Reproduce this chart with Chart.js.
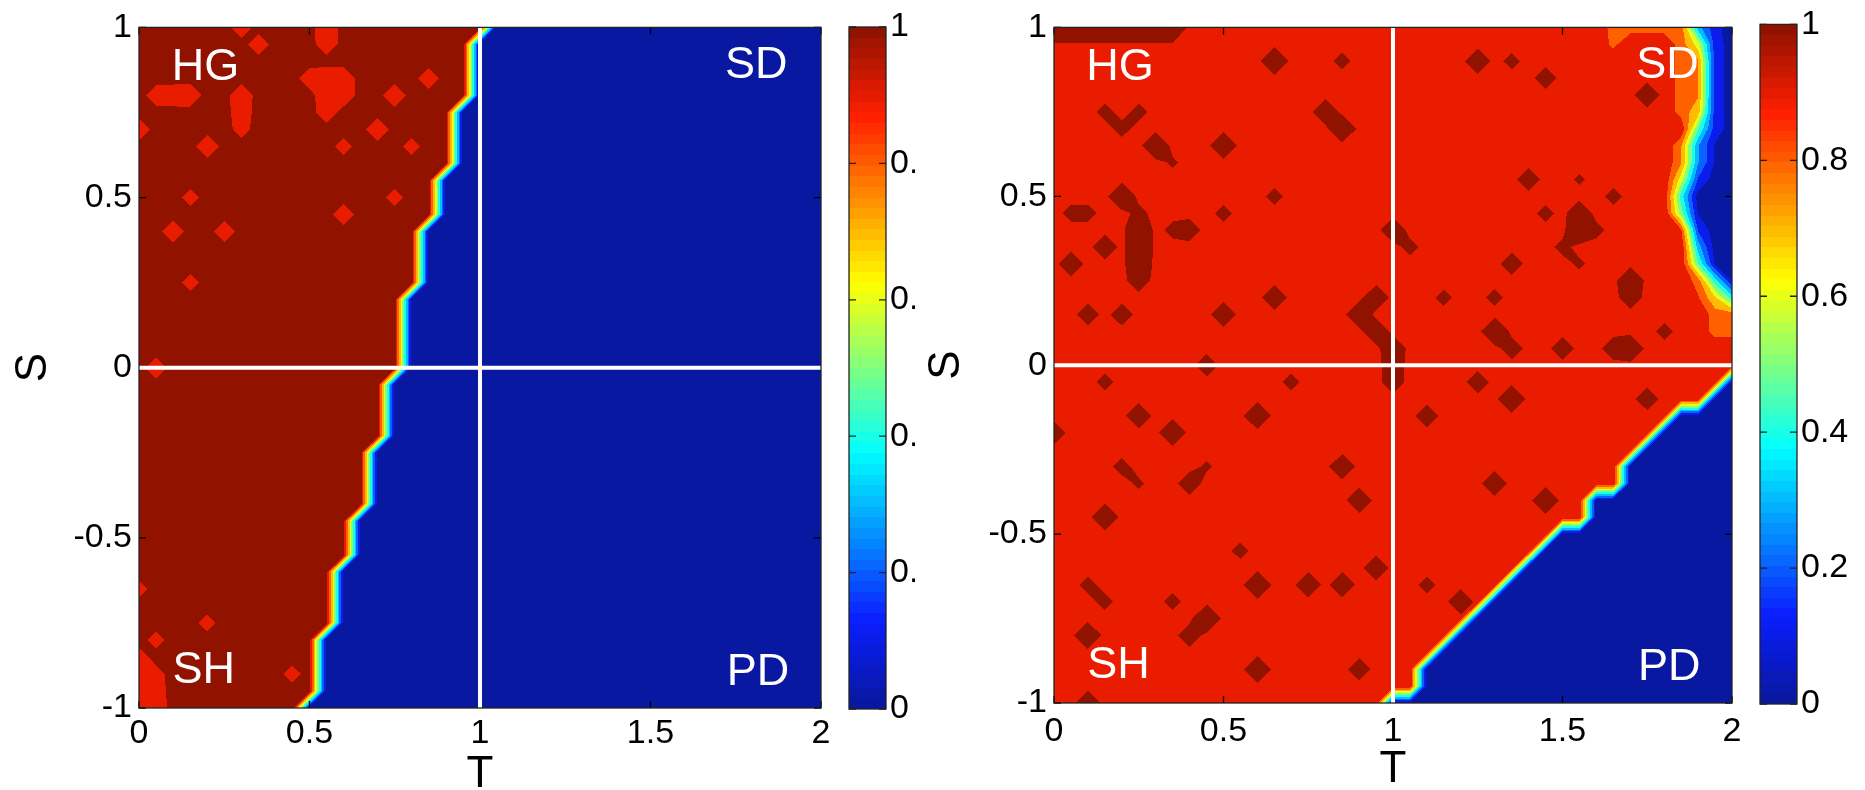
<!DOCTYPE html>
<html>
<head>
<meta charset="utf-8">
<script src="https://cdn.jsdelivr.net/npm/chart.js@4.4.1/dist/chart.umd.min.js"></script>
<style>
  html, body { margin: 0; padding: 0; background: #fff; }
  #fig { position: relative; width: 1865px; height: 790px; overflow: hidden; background: #fff; }
  #fig canvas { position: absolute; top: 0; }
</style>
</head>
<body>
<div id="fig">
  <canvas id="mapL" width="845" height="790" style="left:0px;z-index:1"></canvas>
  <canvas id="barL" width="110" height="790" style="left:845px;z-index:1"></canvas>
  <canvas id="mapR" width="845" height="790" style="left:915px;z-index:2"></canvas>
  <canvas id="barR" width="115" height="790" style="left:1750px;z-index:3"></canvas>
</div>
<script>
// axes
var tTicks = [0, 0.5, 1, 1.5, 2];
var sTicks = [-1, -0.5, 0, 0.5, 1];
var cTicks = [0, 0.2, 0.4, 0.6, 0.8, 1];
var step = 0.05;          // grid spacing in T and S
var nT = 41, nS = 41;     // grid points along T and S

// white reference lines T=1 and S=0
var vLine = [{x: 1, y: -1}, {x: 1, y: 1}];
var hLine = [{x: 0, y: 0}, {x: 2, y: 0}];

// quadrant names
var regionNames = ['HG', 'SD', 'SH', 'PD'];
var regionT = [0.195, 1.81, 0.19, 1.815];
var regionS = [0.882, 0.888, -0.89, -0.895];

// left panel: last T index still at 1, one entry per S row (S=-1 ... S=1)
var leftEdge = [9, 10, 10, 10, 10, 11, 11, 11, 11, 12, 12, 12, 13, 13, 13, 13, 14, 14, 14, 14,
  15, 15, 15, 15, 15, 16, 16, 16, 16, 17, 17, 17, 18, 18, 18, 18, 19, 19, 19, 19, 20];
// left panel: points below 1 [T index, S index, value]
var leftSpots = [
  [6, 40, 0.87], [7, 39, 0.87], [11, 40, 0.85], [11, 39, 0.86],
  [11, 37, 0.85], [12, 37, 0.85], [11, 36, 0.85], [12, 36, 0.86], [10, 37, 0.87], [11, 35, 0.87],
  [1, 36, 0.87], [2, 36, 0.86], [3, 36, 0.85], [6, 36, 0.85], [15, 36, 0.85], [17, 37, 0.87],
  [6, 35, 0.87], [0, 34, 0.86], [6, 34, 0.9], [14, 34, 0.85], [4, 33, 0.85], [12, 33, 0.9], [16, 33, 0.9],
  [3, 30, 0.9], [15, 30, 0.9], [12, 29, 0.87], [5, 28, 0.87], [2, 28, 0.86], [3, 25, 0.9], [1, 20, 0.87],
  [0, 7, 0.9], [4, 5, 0.9], [1, 4, 0.9], [9, 2, 0.9],
  [0, 0, 0.86], [1, 0, 0.86], [0, 1, 0.86], [1, 1, 0.88], [0, 2, 0.86], [1, 2, 0.9], [0, 3, 0.88]
];

// right panel
var B = 0.94;             // bulk level of the right panel
// last T index above 0 for the PD rows (S=-1 ... S=-0.05)
var rightEdge = [19, 21, 21, 22, 23, 24, 25, 26, 27, 28, 29, 31, 31, 33, 33, 34, 35, 36, 38, 39];
// SD side, T index 33..40, rows S=1 down to S=0
var rightSDFirstCol = 33;
var rightSD = [
  [0.8, 0.8, 0.8, 0.8, 0.8, 0.3, 0.08, 0],
  [0.82, B, B, B, 0.8, 0.6, 0.1, 0],
  [B, B, B, B, 0.8, 0.76, 0.1, 0],
  [B, B, B, B, 0.8, 0.76, 0.1, 0],
  [B, B, B, B, 0.8, 0.76, 0.1, 0],
  [B, B, B, B, 0.8, 0.7, 0.1, 0],
  [B, B, B, B, B, 0.46, 0.1, 0],
  [B, B, B, B, 0.76, 0.26, 0.04, 0],
  [B, B, B, B, 0.76, 0.26, 0.04, 0],
  [B, B, B, B, 0.6, 0.14, 0, 0],
  [B, B, B, B, 0.4, 0, 0, 0],
  [B, B, B, B, 0.5, 0.04, 0, 0],
  [B, B, B, B, 0.86, 0.14, 0, 0],
  [B, B, B, B, B, 0.3, 0, 0],
  [B, B, B, B, B, 0.46, 0.04, 0],
  [B, B, B, B, B, 0.8, 0.4, 0.04],
  [B, B, B, B, B, 0.86, 0.66, 0.4],
  [B, B, B, B, B, B, 0.8, 0.8],
  [B, B, B, B, B, B, 0.8, 0.8],
  [B, B, B, B, B, B, B, B],
  [B, B, B, B, B, B, B, B]
];
// dark strip along the top edge [S index, value, first T index, last T index]
var rightTopBand = [[40, 1, 0, 7], [39, 0.947, 0, 7]];
// right panel: points above the bulk [T index, S index, value]
var rightSpots = [
  [13, 38, 1], [17, 38, 0.96], [3, 35, 0.96], [5, 35, 0.96], [4, 34, 0.96], [16, 35, 0.98], [17, 34, 1],
  [6, 33, 0.99], [10, 33, 0.99], [7, 32, 0.955], [4, 30, 0.99], [13, 30, 0.96], [1, 29, 0.96], [2, 29, 0.96],
  [5, 28, 1], [5, 27, 1], [5, 26, 0.99], [5, 25, 0.97], [5, 29, 0.96], [7, 28, 0.96], [8, 28, 0.97],
  [10, 29, 0.96], [3, 27, 0.98], [1, 26, 0.98], [20, 28, 0.98], [21, 27, 0.96], [13, 24, 0.98],
  [2, 23, 0.97], [4, 23, 0.97], [10, 23, 0.98], [19, 24, 0.98], [18, 23, 0.99], [19, 22, 0.98],
  [20, 21, 0.98], [20, 20, 0.97], [9, 20, 0.97], [20, 19, 0.97], [3, 19, 0.96], [14, 19, 0.96],
  [12, 17, 0.99], [5, 17, 0.98], [7, 16, 0.99], [0, 16, 0.97], [17, 14, 0.98], [4, 14, 0.96],
  [9, 14, 0.955], [8, 13, 0.97], [5, 13, 0.955], [18, 12, 0.98], [3, 11, 0.99], [11, 9, 0.96],
  [19, 8, 0.98], [12, 7, 1], [15, 7, 0.98], [17, 7, 0.98], [2, 7, 0.96], [3, 6, 0.96], [7, 6, 0.96],
  [9, 5, 1], [8, 4, 0.97], [2, 4, 0.99], [12, 2, 0.99], [18, 2, 0.97], [2, 0, 0.98],
  [25, 38, 0.98], [27, 38, 0.96], [29, 37, 0.97], [35, 36, 0.98], [28, 31, 0.97], [31, 31, 0.955],
  [33, 30, 0.96], [29, 29, 0.96], [31, 28, 1], [31, 29, 0.98], [32, 28, 0.96], [30, 27, 0.96],
  [27, 26, 0.97], [31, 26, 0.955], [34, 25, 0.99], [34, 24, 0.97], [23, 24, 0.96], [26, 24, 0.96],
  [26, 22, 1], [27, 21, 0.97], [30, 21, 0.97], [34, 21, 0.99], [33, 21, 0.97], [36, 22, 0.96],
  [25, 19, 0.97], [27, 18, 1], [22, 17, 0.97], [35, 18, 0.97], [26, 13, 0.98], [29, 12, 0.99],
  [22, 7, 0.96], [24, 6, 0.98]
];

// colour map (jet-like, as printed)
var cmapStops = [0, 0.125, 0.375, 0.625, 0.875, 1];
var cmapColors = [[8, 24, 160], [10, 30, 255], [0, 255, 255], [255, 255, 0], [255, 30, 0], [146, 18, 0]];

function cmap(v) {
  v = Math.max(0, Math.min(1, v));
  for (var k = 1; k < cmapStops.length; k++) {
    if (v <= cmapStops[k]) {
      var t = (v - cmapStops[k - 1]) / (cmapStops[k] - cmapStops[k - 1]);
      var a = cmapColors[k - 1], b = cmapColors[k];
      return [0, 1, 2].map(function(c) { return Math.round(a[c] + (b[c] - a[c]) * t); });
    }
  }
  return cmapColors[cmapColors.length - 1];
}
// filled contour levels 0, 0.1 ... 1 (boundaries half way between)
var levelColors = [], thresholds = [];
for (var L = 0; L <= 10; L++) levelColors.push(cmap(L / 10));
for (L = 1; L <= 10; L++) thresholds.push((L - 0.5) / 10);
function levelOf(v) { return Math.max(0, Math.min(10, Math.floor(v * 10 + 0.5))); }

function buildLeft() {
  var g = [];
  for (var i = 0; i < nS; i++) {
    var row = [];
    for (var j = 0; j < nT; j++) row.push(j <= leftEdge[i] ? 1 : 0);
    g.push(row);
  }
  leftSpots.forEach(function(p) { g[p[1]][p[0]] = p[2]; });
  return g;
}

function buildRight() {
  var g = [];
  for (var i = 0; i < nS; i++) {
    var row = [];
    for (var j = 0; j < nT; j++) row.push(i < rightEdge.length && j > rightEdge[i] ? 0 : B);
    g.push(row);
  }
  rightSD.forEach(function(vals, k) {
    vals.forEach(function(v, c) { g[nS - 1 - k][rightSDFirstCol + c] = v; });
  });
  rightTopBand.forEach(function(b) {
    for (var j = b[2]; j <= b[3]; j++) g[b[0]][j] = b[1];
  });
  rightSpots.forEach(function(p) { g[p[1]][p[0]] = p[2]; });
  return g;
}

// marching squares: polygons of {v >= level} inside one cell
var corner = [[0, 0], [1, 0], [1, 1], [0, 1]];
function cellInfo(vals) {
  var lo = levelOf(Math.min.apply(null, vals)), hi = levelOf(Math.max.apply(null, vals));
  var polys = {};
  for (var k = lo + 1; k <= hi; k++) {
    var th = thresholds[k - 1], poly = [];
    for (var n = 0; n < 4; n++) {
      var m = (n + 1) % 4, vn = vals[n], vm = vals[m];
      if (vn >= th) poly.push(corner[n]);
      if ((vn >= th) !== (vm >= th)) {
        var t = (th - vn) / (vm - vn);
        poly.push([corner[n][0] + (corner[m][0] - corner[n][0]) * t,
                   corner[n][1] + (corner[m][1] - corner[n][1]) * t]);
      }
    }
    polys[k] = poly;
  }
  return { lo: lo, hi: hi, polys: polys };
}
function inside(poly, x, y) {
  var hits = 0;
  for (var n = 0; n < poly.length; n++) {
    var p = poly[n], q = poly[(n + 1) % poly.length];
    var ex = q[0] - p[0], ey = q[1] - p[1];
    if (ex * ex + ey * ey < 1e-12) continue;
    if (ex * (y - p[1]) - ey * (x - p[0]) < 0) return false;
    hits++;
  }
  return hits >= 3;
}

Chart.defaults.font.family = '"Liberation Sans", Arial, Helvetica, sans-serif';
Chart.defaults.color = '#000';
var FONT_TICK = 34, FONT_TITLE = 44, FONT_REGION = 45;

function heatPlugin(grid, whiteBg) {
  var cells = [];
  for (var i = 0; i < nS - 1; i++) {
    var row = [];
    for (var j = 0; j < nT - 1; j++) {
      row.push(cellInfo([grid[i][j], grid[i][j + 1], grid[i + 1][j + 1], grid[i + 1][j]]));
    }
    cells.push(row);
  }
  return {
    id: 'heat',
    beforeDraw: function(chart) {
      if (!whiteBg) return;
      var ctx = chart.ctx;
      ctx.save();
      ctx.fillStyle = '#fff';
      ctx.fillRect(0, 0, chart.width, chart.height);
      ctx.restore();
    },
    beforeDatasetsDraw: function(chart) {
      var a = chart.chartArea, xs = chart.scales.x, ys = chart.scales.y, ctx = chart.ctx;
      var x0 = Math.round(a.left), y0 = Math.round(a.top);
      var w = Math.round(a.right) - x0, h = Math.round(a.bottom) - y0;
      var off = document.createElement('canvas');
      off.width = w; off.height = h;
      var octx = off.getContext('2d');
      var img = octx.createImageData(w, h), d = img.data;
      var gx = new Float64Array(w), gy = new Float64Array(h);
      var px, py;
      for (px = 0; px < w; px++) gx[px] = (xs.getValueForPixel(x0 + px + 0.5) - tTicks[0]) / step;
      for (py = 0; py < h; py++) gy[py] = (ys.getValueForPixel(y0 + py + 0.5) - sTicks[0]) / step;
      for (py = 0; py < h; py++) {
        var fy = Math.max(0, Math.min(nS - 1, gy[py]));
        var i0 = Math.min(nS - 2, Math.floor(fy)), ty = fy - i0;
        var crow = cells[i0];
        for (px = 0; px < w; px++) {
          var fx = Math.max(0, Math.min(nT - 1, gx[px]));
          var j0 = Math.min(nT - 2, Math.floor(fx)), tx = fx - j0;
          var cell = crow[j0], lvl = cell.lo;
          for (var k = cell.hi; k > cell.lo; k--) {
            if (inside(cell.polys[k], tx, ty)) { lvl = k; break; }
          }
          var c = levelColors[lvl];
          var o = (py * w + px) * 4;
          d[o] = c[0]; d[o + 1] = c[1]; d[o + 2] = c[2]; d[o + 3] = 255;
        }
      }
      octx.putImageData(img, 0, 0);
      ctx.drawImage(off, x0, y0);

      // inward tick marks
      ctx.save();
      ctx.strokeStyle = '#000';
      ctx.lineWidth = 1.3;
      ctx.beginPath();
      tTicks.forEach(function(t) {
        var x = xs.getPixelForValue(t);
        ctx.moveTo(x, a.bottom); ctx.lineTo(x, a.bottom - 7);
        ctx.moveTo(x, a.top); ctx.lineTo(x, a.top + 7);
      });
      sTicks.forEach(function(s) {
        var y = ys.getPixelForValue(s);
        ctx.moveTo(a.left, y); ctx.lineTo(a.left + 7, y);
        ctx.moveTo(a.right, y); ctx.lineTo(a.right - 7, y);
      });
      ctx.stroke();
      ctx.restore();
    },
    afterDatasetsDraw: function(chart) {
      var a = chart.chartArea, xs = chart.scales.x, ys = chart.scales.y, ctx = chart.ctx;
      ctx.save();
      ctx.strokeStyle = '#222';
      ctx.lineWidth = 1.3;
      ctx.strokeRect(a.left, a.top, a.right - a.left, a.bottom - a.top);
      ctx.fillStyle = '#fff';
      ctx.font = FONT_REGION + 'px "Liberation Sans", Arial, sans-serif';
      ctx.textAlign = 'center';
      ctx.textBaseline = 'middle';
      regionNames.forEach(function(name, k) {
        ctx.fillText(name, xs.getPixelForValue(regionT[k]), ys.getPixelForValue(regionS[k]));
      });
      ctx.restore();
    }
  };
}

var cbarPlugin = {
  id: 'cbar',
  afterDraw: function(chart) {
    var a = chart.chartArea, ys = chart.scales.y, ctx = chart.ctx;
    var n = 64;
    ctx.save();
    for (var k = 0; k < n; k++) {
      var yb = Math.round(ys.getPixelForValue(k / n));
      var yt = Math.round(ys.getPixelForValue((k + 1) / n));
      var c = cmap(k / (n - 1));
      ctx.fillStyle = 'rgb(' + c[0] + ',' + c[1] + ',' + c[2] + ')';
      ctx.fillRect(a.left, yt, a.right - a.left, yb - yt);
    }
    ctx.strokeStyle = '#222';
    ctx.lineWidth = 1.3;
    ctx.strokeRect(a.left, a.top, a.right - a.left, a.bottom - a.top);
    ctx.beginPath();
    cTicks.forEach(function(v) {
      var y = ys.getPixelForValue(v);
      ctx.moveTo(a.left, y); ctx.lineTo(a.left + 7, y);
      ctx.moveTo(a.right, y); ctx.lineTo(a.right - 7, y);
    });
    ctx.stroke();
    ctx.restore();
  }
};

function mapChart(id, grid, o) {
  return new Chart(document.getElementById(id), {
    type: 'line',
    data: {
      datasets: [
        { data: vLine, borderColor: '#fff', borderWidth: 4, pointRadius: 0, fill: false },
        { data: hLine, borderColor: '#fff', borderWidth: 4, pointRadius: 0, fill: false }
      ]
    },
    options: {
      responsive: false,
      animation: false,
      events: [],
      layout: { padding: o.pad },
      plugins: { legend: { display: false }, tooltip: { enabled: false } },
      scales: {
        x: {
          type: 'linear', min: 0, max: 2,
          grid: { display: false, drawTicks: false },
          border: { display: false },
          ticks: { font: { size: FONT_TICK }, color: '#000', padding: o.tickPadX, maxRotation: 0, autoSkip: false,
                   callback: function(v) { return String(v); } },
          afterBuildTicks: function(s) { s.ticks = tTicks.map(function(v) { return { value: v }; }); },
          afterFit: function(s) { s.height = o.xAxisH; },
          title: { display: true, text: 'T', color: '#000', font: { size: FONT_TITLE, lineHeight: 0.7 },
                   padding: { top: 0, bottom: o.titlePadX } }
        },
        y: {
          type: 'linear', min: -1, max: 1,
          grid: { display: false, drawTicks: false },
          border: { display: false },
          ticks: { font: { size: FONT_TICK }, color: '#000', padding: 7, autoSkip: false,
                   callback: function(v) { return String(v); } },
          afterBuildTicks: function(s) { s.ticks = sTicks.map(function(v) { return { value: v }; }); },
          afterFit: function(s) { s.width = 139; },
          title: { display: true, text: 'S', color: '#000', font: { size: FONT_TITLE, lineHeight: 0.7 },
                   padding: { top: o.titlePadY, bottom: 0 } }
        }
      }
    },
    plugins: [heatPlugin(grid, o.whiteBg)]
  });
}

function barChart(id, o) {
  return new Chart(document.getElementById(id), {
    type: 'line',
    data: { datasets: [] },
    options: {
      responsive: false,
      animation: false,
      events: [],
      layout: { padding: o.pad },
      plugins: { legend: { display: false }, tooltip: { enabled: false } },
      scales: {
        x: { type: 'linear', display: false, min: 0, max: 1 },
        y: {
          type: 'linear', min: 0, max: 1, position: 'right',
          grid: { display: false, drawTicks: false },
          border: { display: false },
          ticks: { font: { size: FONT_TICK }, color: '#000', padding: 4, autoSkip: false,
                   callback: function(v) { return String(v); } },
          afterBuildTicks: function(s) { s.ticks = cTicks.map(function(v) { return { value: v }; }); },
          afterFit: function(s) { s.width = o.axisW; }
        }
      }
    },
    plugins: [cbarPlugin]
  });
}

mapChart('mapL', buildLeft(), { pad: { left: 0, top: 26, right: 24, bottom: 0 }, xAxisH: 82, tickPadX: 5, titlePadX: 0, titlePadY: 18, whiteBg: false });
barChart('barL', { pad: { left: 4, top: 27, right: 0, bottom: 81 }, axisW: 69 });
mapChart('mapR', buildRight(), { pad: { left: 0, top: 24, right: 28, bottom: 0 }, xAxisH: 87, tickPadX: 8, titlePadX: 5, titlePadY: 16, whiteBg: true });
barChart('barR', { pad: { left: 10, top: 24, right: 0, bottom: 86 }, axisW: 68 });
</script>
</body>
</html>
